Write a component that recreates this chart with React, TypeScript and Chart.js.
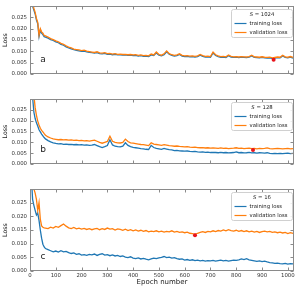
import React, { useEffect, useRef } from "react";
import { Chart, registerables } from "chart.js";
Chart.register(...registerables);

const epochs = [
  0, 5, 10, 15, 20, 25, 30, 35, 40, 45, 50, 55, 60,
  70, 80, 90, 100, 110, 120, 130, 140, 150, 160,
  170, 180, 190, 200, 210, 220, 230, 240, 250, 260,
  270, 280, 290, 300, 310, 320, 330, 340, 350, 360,
  370, 380, 390, 400, 410, 420, 430, 440, 450, 460,
  470, 480, 490, 500, 510, 520, 530, 540, 550, 560,
  570, 580, 590, 600, 610, 620, 630, 640, 650, 660,
  670, 680, 690, 700, 710, 720, 730, 740, 750, 760,
  770, 780, 790, 800, 810, 820, 830, 840, 850, 860,
  870, 880, 890, 900, 910, 920, 930, 940, 950, 960,
  970, 980, 990, 1000, 1010, 1020,
];

// S = 1024
const trainA = [
  0.056, 0.039, 0.03, 0.0282, 0.0265, 0.0238, 0.0222, 0.0165, 0.0194, 0.018, 0.0174, 0.0165, 0.0163,
  0.0158, 0.0152, 0.0148, 0.0142, 0.0138, 0.0131, 0.0127, 0.012, 0.0115, 0.0111,
  0.0107, 0.0104, 0.0102, 0.01, 0.0101, 0.0098, 0.0096, 0.0094, 0.0092, 0.0094,
  0.009, 0.0089, 0.0091, 0.0087, 0.0088, 0.0085, 0.0087, 0.0084, 0.0085, 0.0083,
  0.0084, 0.0082, 0.0083, 0.0081, 0.0082, 0.0079, 0.0081, 0.0078, 0.0079, 0.0077,
  0.0084, 0.0081, 0.0093, 0.0083, 0.008, 0.0085, 0.0098, 0.0087, 0.0082, 0.0079,
  0.0081, 0.0086, 0.0079, 0.0077, 0.0078, 0.0076, 0.0077, 0.0075, 0.0077, 0.0083,
  0.0078, 0.0075, 0.0076, 0.0074, 0.0093, 0.0082, 0.0077, 0.0074, 0.0075, 0.0073,
  0.0081, 0.0075, 0.0073, 0.0074, 0.0072, 0.0074, 0.0073, 0.0072, 0.0074, 0.008,
  0.0073, 0.0072, 0.0071, 0.0073, 0.0071, 0.007, 0.0071, 0.0068, 0.007, 0.0072,
  0.0071, 0.008, 0.0073, 0.0071, 0.0074, 0.007,
];
const valA = [
  0.06, 0.04, 0.031, 0.029, 0.0272, 0.0245, 0.0228, 0.0172, 0.02, 0.0186, 0.018, 0.017, 0.0168,
  0.0163, 0.0156, 0.0152, 0.0146, 0.0142, 0.0135, 0.0131, 0.0124, 0.0119, 0.0115,
  0.011, 0.0108, 0.0106, 0.0103, 0.0105, 0.0101, 0.0099, 0.0097, 0.0095, 0.0098,
  0.0093, 0.0092, 0.0094, 0.009, 0.0091, 0.0088, 0.009, 0.0087, 0.0088, 0.0086,
  0.0087, 0.0085, 0.0086, 0.0084, 0.0085, 0.0082, 0.0084, 0.0081, 0.0082, 0.008,
  0.0088, 0.0084, 0.0097, 0.0086, 0.0083, 0.0089, 0.0102, 0.009, 0.0085, 0.0082,
  0.0084, 0.0089, 0.0082, 0.008, 0.0081, 0.0079, 0.008, 0.0078, 0.008, 0.0086,
  0.0081, 0.0078, 0.0079, 0.0077, 0.0097, 0.0085, 0.008, 0.0077, 0.0078, 0.0076,
  0.0084, 0.0078, 0.0076, 0.0077, 0.0075, 0.0077, 0.0076, 0.0075, 0.0077, 0.0083,
  0.0076, 0.0075, 0.0074, 0.0076, 0.0074, 0.0073, 0.0074, 0.0071, 0.0073, 0.0075,
  0.0074, 0.0083, 0.0076, 0.0074, 0.0077, 0.0073,
];

// S = 128
const trainB = [
  0.06, 0.04, 0.031, 0.024, 0.021, 0.019, 0.0175, 0.0158, 0.0148, 0.0138, 0.013, 0.0122, 0.0116,
  0.0108, 0.0102, 0.0098, 0.0095, 0.0093, 0.0094, 0.0091, 0.0092, 0.009, 0.0091,
  0.0089, 0.009, 0.0088, 0.0089, 0.0087, 0.0088, 0.0086, 0.0087, 0.009, 0.0085,
  0.008, 0.0076, 0.008, 0.0085, 0.0112, 0.0088, 0.0082, 0.008, 0.0079, 0.0082,
  0.0098, 0.0086, 0.008, 0.0077, 0.0075, 0.0073, 0.0071, 0.007, 0.0068, 0.0067,
  0.0086, 0.0076, 0.0072, 0.007, 0.0068, 0.0072, 0.0069, 0.0066, 0.0065, 0.0062,
  0.0063, 0.0061, 0.006, 0.0059, 0.006, 0.0058, 0.0057, 0.0058, 0.0056, 0.0055,
  0.0056, 0.0054, 0.0055, 0.0053, 0.0054, 0.0053, 0.0052, 0.0054, 0.0052, 0.0053,
  0.0051, 0.0052, 0.0053, 0.0056, 0.0052, 0.0053, 0.0051, 0.0052, 0.0054, 0.0051,
  0.0052, 0.005, 0.0052, 0.0051, 0.005, 0.0052, 0.0049, 0.0048, 0.0049, 0.0048,
  0.0049, 0.0048, 0.0049, 0.005, 0.0048, 0.0049,
];
const valB = [
  0.06, 0.042, 0.036, 0.032, 0.026, 0.0225, 0.0198, 0.018, 0.0165, 0.0155, 0.0148, 0.014, 0.0133,
  0.0125, 0.012, 0.0116, 0.0114, 0.0112, 0.0113, 0.0111, 0.0112, 0.011, 0.0111,
  0.0109, 0.011, 0.0108, 0.0109, 0.0107, 0.0108, 0.0106, 0.0108, 0.011, 0.0105,
  0.01, 0.0096, 0.01, 0.0104, 0.0128, 0.0105, 0.01, 0.0098, 0.0097, 0.01,
  0.0115, 0.0104, 0.0098, 0.0096, 0.0094, 0.0092, 0.009, 0.0089, 0.0087, 0.0085,
  0.0098, 0.0092, 0.009, 0.0088, 0.0086, 0.0089, 0.0087, 0.0085, 0.0084, 0.0082,
  0.0083, 0.0081, 0.008, 0.0079, 0.008, 0.0078, 0.0077, 0.0078, 0.0076, 0.0075,
  0.0076, 0.0074, 0.0075, 0.0073, 0.0074, 0.0073, 0.0072, 0.0074, 0.0072, 0.0073,
  0.0071, 0.0072, 0.0073, 0.0075, 0.0072, 0.0073, 0.0071, 0.0072, 0.0073, 0.0071,
  0.0072, 0.007, 0.0072, 0.0071, 0.0072, 0.0074, 0.0071, 0.007, 0.0071, 0.0072,
  0.0071, 0.007, 0.0071, 0.0072, 0.007, 0.0071,
];

// S = 16
const trainC = [
  0.06, 0.035, 0.0262, 0.024, 0.0222, 0.0205, 0.0212, 0.0185, 0.015, 0.012, 0.0098, 0.0088, 0.0082,
  0.0078, 0.0074, 0.007, 0.0073, 0.0069, 0.0074, 0.007, 0.0072, 0.0067, 0.0064,
  0.0066, 0.0061, 0.0063, 0.0058, 0.006, 0.0057, 0.0061, 0.0059, 0.0062, 0.0057,
  0.0061, 0.0063, 0.0058, 0.006, 0.0056, 0.0059, 0.0055, 0.0057, 0.0053, 0.0055,
  0.0051, 0.0049, 0.0052, 0.0047, 0.0045, 0.0048, 0.0044, 0.0046, 0.0043, 0.0041,
  0.0044, 0.0047, 0.0045, 0.0048, 0.005, 0.0053, 0.0049, 0.0051, 0.0047, 0.0049,
  0.0045, 0.0043, 0.0044, 0.004, 0.0042, 0.0039, 0.0041, 0.0038, 0.004, 0.0037,
  0.0039, 0.0036, 0.0038, 0.0037, 0.0039, 0.0036, 0.0038, 0.004, 0.0037, 0.0039,
  0.0036, 0.0038, 0.004, 0.0039, 0.0041, 0.0044, 0.0042, 0.0045, 0.0041, 0.0039,
  0.0037, 0.0035, 0.0037, 0.0034, 0.0036, 0.0033, 0.0031, 0.003, 0.0028, 0.0029,
  0.0027, 0.0026, 0.0028, 0.0025, 0.0027, 0.0026,
];
const valC = [
  0.06, 0.04, 0.033, 0.03, 0.0285, 0.0262, 0.0222, 0.025, 0.019, 0.0165, 0.016, 0.0158, 0.0157,
  0.0155, 0.016, 0.0157, 0.0163, 0.016, 0.0166, 0.0172, 0.0164, 0.0158, 0.0155,
  0.0159, 0.0154, 0.0157, 0.0153, 0.0156, 0.0152, 0.0155, 0.0151, 0.0154, 0.0156,
  0.0151, 0.0155, 0.0152, 0.0157, 0.0153, 0.0155, 0.015, 0.0154, 0.0152, 0.0149,
  0.0153, 0.0148, 0.0151, 0.0147, 0.015, 0.0146, 0.0149, 0.0145, 0.0148, 0.0143,
  0.0146, 0.0144, 0.0147, 0.0143, 0.0146, 0.0142, 0.0145, 0.0143, 0.0147, 0.0142,
  0.0145, 0.0141, 0.0143, 0.014, 0.0142, 0.0138, 0.0137, 0.0134, 0.0138, 0.0141,
  0.0144, 0.0141, 0.0145, 0.0143, 0.0147, 0.0144, 0.0148, 0.0146, 0.015, 0.0147,
  0.0151, 0.0148, 0.0146, 0.0149, 0.0145, 0.0148, 0.0144, 0.0147, 0.0143, 0.0146,
  0.0142, 0.0145, 0.0141, 0.0144, 0.0146, 0.0143, 0.0145, 0.0141, 0.0143, 0.014,
  0.0142, 0.0139, 0.0141, 0.0137, 0.014, 0.0138,
];

const batchSizes = ["1024", "128", "16"];
const panelLetters = ["a", "b", "c"];
const seriesLabels = ["training loss", "validation loss"];
const bestEpoch = [945, 865, 640];
const bestLoss = [0.0063, 0.0065, 0.0131];
const xTickValues = [0, 100, 200, 300, 400, 500, 600, 700, 800, 900, 1000];
const yTickValues = [0, 0.005, 0.01, 0.015, 0.02, 0.025];
const X_MAX = 1024;
const Y_MAX = 0.0299;

const FONT = "'DejaVu Sans', Verdana, sans-serif";
const BLUE = "#1f77b4";
const ORANGE = "#ff7f0e";
const RED = "#e8141c";
const FRAME = "#8a8a8a";
const TEXT = "#333333";

const trains = [trainA, trainB, trainC];
const vals = [valA, valB, valC];

function makeDecor(idx: number) {
  return {
    id: "decor" + idx,
    afterDraw(chart: any) {
      const ctx = chart.ctx as CanvasRenderingContext2D;
      const { left, right, top, bottom } = chart.chartArea;
      const xs = chart.scales.x;
      const ys = chart.scales.y;
      const L = Math.round(left) + 0.5;
      const R = Math.round(right) - 0.5;
      const T = Math.round(top) + 0.5;
      const B = Math.round(bottom) - 0.5;
      ctx.save();
      ctx.strokeStyle = FRAME;
      ctx.lineWidth = 1;
      ctx.strokeRect(L, T, R - L, B - T);
      // inward ticks
      ctx.beginPath();
      for (const v of xTickValues) {
        const px = Math.round(xs.getPixelForValue(v)) + 0.5;
        ctx.moveTo(px, B);
        ctx.lineTo(px, B - 3);
        ctx.moveTo(px, T);
        ctx.lineTo(px, T + 3);
      }
      for (const v of yTickValues) {
        const py = Math.round(ys.getPixelForValue(v)) + 0.5;
        ctx.moveTo(L, py);
        ctx.lineTo(L + 3, py);
        ctx.moveTo(R, py);
        ctx.lineTo(R - 3, py);
      }
      ctx.stroke();

      // panel letter
      ctx.fillStyle = "#222";
      ctx.font = `9px ${FONT}`;
      ctx.textAlign = "center";
      ctx.textBaseline = "middle";
      ctx.fillText(panelLetters[idx], left + 13, bottom - 14);

      // legend box
      const bw = 61;
      const bh = 28;
      const bx = Math.round(right) - 2 - bw + 0.5;
      const by = Math.round(top) + 3 + 0.5;
      const r = 2;
      ctx.beginPath();
      ctx.moveTo(bx + r, by);
      ctx.lineTo(bx + bw - r, by);
      ctx.arcTo(bx + bw, by, bx + bw, by + r, r);
      ctx.lineTo(bx + bw, by + bh - r);
      ctx.arcTo(bx + bw, by + bh, bx + bw - r, by + bh, r);
      ctx.lineTo(bx + r, by + bh);
      ctx.arcTo(bx, by + bh, bx, by + bh - r, r);
      ctx.lineTo(bx, by + r);
      ctx.arcTo(bx, by, bx + r, by, r);
      ctx.closePath();
      ctx.fillStyle = "rgba(255,255,255,0.85)";
      ctx.fill();
      ctx.strokeStyle = "#d0d0d0";
      ctx.stroke();

      // legend title with italic S
      const fs = 5.3;
      const partS = "S";
      const partRest = " = " + batchSizes[idx];
      ctx.font = `italic ${fs}px ${FONT}`;
      const wS = ctx.measureText(partS).width;
      ctx.font = `${fs}px ${FONT}`;
      const wR = ctx.measureText(partRest).width;
      const tx = bx + bw / 2 - (wS + wR) / 2;
      const ty = by + 5.5;
      ctx.fillStyle = "#222";
      ctx.textAlign = "left";
      ctx.textBaseline = "middle";
      ctx.font = `italic ${fs}px ${FONT}`;
      ctx.fillText(partS, tx, ty);
      ctx.font = `${fs}px ${FONT}`;
      ctx.fillText(partRest, tx + wS, ty);

      const entryColors = [BLUE, ORANGE];
      for (let k = 0; k < 2; k++) {
        const ey = Math.round(by + 13.5 + k * 9) + 0.5;
        ctx.strokeStyle = entryColors[k];
        ctx.lineWidth = 1.2;
        ctx.beginPath();
        ctx.moveTo(bx + 3, ey);
        ctx.lineTo(bx + 15, ey);
        ctx.stroke();
        ctx.fillStyle = "#222";
        ctx.fillText(seriesLabels[k], bx + 18, ey);
      }
      ctx.restore();
    },
  };
}

function Panel(props: {
  idx: number;
  top: number;
  height: number;
  padTop: number;
  padBottom: number;
  bottomAxis: boolean;
}) {
  const { idx, top, height, padTop, padBottom, bottomAxis } = props;
  const ref = useRef<HTMLCanvasElement>(null);
  useEffect(() => {
    const canvas = ref.current;
    if (!canvas) return;
    const train = trains[idx];
    const val = vals[idx];
    const chart = new Chart(canvas, {
      type: "line",
      data: {
        datasets: [
          {
            label: "best",
            data: [{ x: bestEpoch[idx], y: bestLoss[idx] }],
            showLine: false,
            pointRadius: 2,
            pointBackgroundColor: RED,
            pointBorderColor: RED,
            pointBorderWidth: 0,
            order: 0,
          },
          {
            label: seriesLabels[1],
            data: epochs.map((e, k) => ({ x: e, y: val[k] })),
            borderColor: ORANGE,
            backgroundColor: ORANGE,
            borderWidth: 1.3,
            pointRadius: 0,
            tension: 0,
            order: 1,
          },
          {
            label: seriesLabels[0],
            data: epochs.map((e, k) => ({ x: e, y: train[k] })),
            borderColor: BLUE,
            backgroundColor: BLUE,
            borderWidth: 1.3,
            pointRadius: 0,
            tension: 0,
            order: 2,
          },
        ],
      },
      options: {
        responsive: false,
        maintainAspectRatio: false,
        animation: false,
        devicePixelRatio: 1,
        events: [],
        layout: { padding: { top: padTop, bottom: padBottom, left: 0, right: 5 } },
        plugins: { legend: { display: false }, tooltip: { enabled: false } },
        scales: {
          x: {
            type: "linear",
            min: 0,
            max: X_MAX,
            display: bottomAxis,
            grid: { display: false, drawTicks: false },
            border: { display: false },
            ticks: {
              stepSize: 100,
              includeBounds: false,
              autoSkip: false,
              maxRotation: 0,
              padding: 1,
              color: TEXT,
              font: { family: FONT, size: 5.4 },
              callback: (v: any) => String(v),
            },
            title: {
              display: true,
              text: "Epoch number",
              color: "#222",
              font: { family: FONT, size: 7 },
              padding: { top: 0, bottom: 2 },
            },
            afterFit: (s: any) => {
              s.height = 17;
            },
          },
          y: {
            type: "linear",
            min: 0,
            max: Y_MAX,
            grid: { display: false, drawTicks: false },
            border: { display: false },
            ticks: {
              stepSize: 0.005,
              includeBounds: false,
              padding: 3,
              color: TEXT,
              font: { family: FONT, size: 5.4 },
              callback: (v: any) => Number(v).toFixed(3),
            },
            title: {
              display: true,
              text: "Loss",
              color: "#222",
              font: { family: FONT, size: 6.2 },
              padding: { top: 2, bottom: 0 },
            },
            afterFit: (s: any) => {
              s.width = 30;
            },
          },
        },
      } as any,
      plugins: [makeDecor(idx)],
    });
    return () => chart.destroy();
  }, [idx]);
  return (
    <canvas
      ref={ref}
      width={299}
      height={height}
      style={{ position: "absolute", left: 0, top, width: 299, height, display: "block" }}
    />
  );
}

export default function App() {
  return (
    <div
      style={{
        position: "absolute",
        left: 0,
        top: 0,
        width: 299,
        height: 288,
        background: "#ffffff",
        overflow: "hidden",
      }}
    >
      <Panel idx={0} top={0} height={92} padTop={6} padBottom={1} bottomAxis={false} />
      <Panel idx={1} top={93} height={90} padTop={2} padBottom={2} bottomAxis={false} />
      <Panel idx={2} top={183} height={105} padTop={2} padBottom={0} bottomAxis={true} />
    </div>
  );
}
